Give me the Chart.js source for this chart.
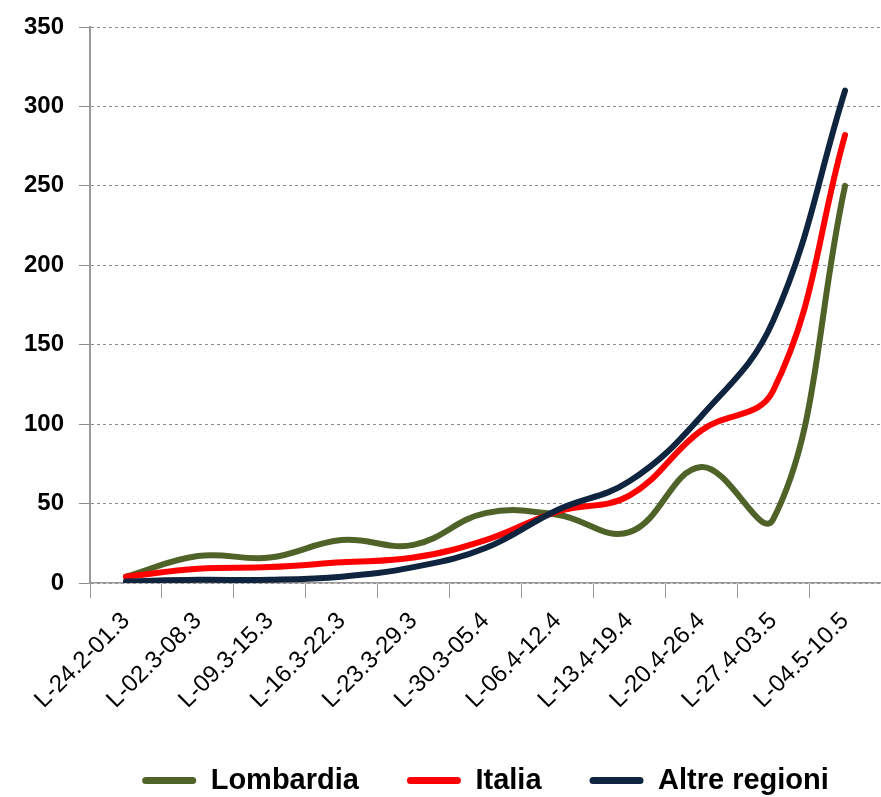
<!DOCTYPE html>
<html>
<head>
<meta charset="utf-8">
<script src="https://cdn.jsdelivr.net/npm/chart.js@4/dist/chart.umd.min.js"></script>
<style>
  html, body { margin: 0; padding: 0; background: #fff; overflow: hidden; }
  #wrap { width: 881px; height: 797px; }
</style>
</head>
<body>
<div id="wrap"><canvas id="grafico" width="881" height="797"></canvas></div>
<script>
// dati
const settimane = ['L-24.2-01.3', 'L-02.3-08.3', 'L-09.3-15.3', 'L-16.3-22.3', 'L-23.3-29.3', 'L-30.3-05.4',
    'L-06.4-12.4', 'L-13.4-19.4', 'L-20.4-26.4', 'L-27.4-03.5', 'L-04.5-10.5'];
const lombardia = [4, 17, 16, 27, 24, 44, 43, 32, 73, 40, 250];
const italia = [4, 9, 10, 13, 16, 27, 45, 55, 96, 121, 282];
const altreRegioni = [1, 2, 2, 4, 10, 22, 46, 64, 105, 165, 310];
const tickY = [0, 50, 100, 150, 200, 250, 300, 350];

const serie = (label, data, colore, ordine) => ({
    label, data, order: ordine,
    borderColor: colore, backgroundColor: colore,
    borderWidth: 6, pointRadius: 0, tension: 0.4, fill: false,
    borderCapStyle: 'round', borderJoinStyle: 'round'
});

new Chart(document.getElementById('grafico'), {
    type: 'line',
    data: {
        labels: settimane,
        datasets: [
            serie('Lombardia', lombardia, '#4F6228', 3),
            serie('Italia', italia, '#FF0000', 2),
            serie('Altre regioni', altreRegioni, '#0F243E', 1)
        ]
    },
    options: {
        responsive: false,
        animation: false,
        layout: { padding: { top: 0, right: 0, left: 0, bottom: -8 } },
        plugins: {
            tooltip: { enabled: false },
            legend: {
                position: 'bottom',
                fullSize: false,
                labels: {
                    boxWidth: 54, boxHeight: 7, padding: 48,
                    useBorderRadius: true, borderRadius: 3.5,
                    color: '#000',
                    font: { family: 'Liberation Sans', size: 29, weight: 'bold' },
                    sort: (a, b) => a.datasetIndex - b.datasetIndex,
                    generateLabels: chart => Chart.defaults.plugins.legend.labels.generateLabels(chart)
                        .map(it => Object.assign(it, { lineWidth: 0 }))
                }
            }
        },
        scales: {
            x: {
                offset: true,
                grid: { offset: true, drawOnChartArea: false, drawTicks: true, tickLength: 15, color: '#999' },
                border: { color: '#999', width: 1.5 },
                ticks: {
                    color: '#000', minRotation: 45, maxRotation: 45, autoSkip: false, padding: 9,
                    font: { family: 'Liberation Sans', size: 24 }
                },
                afterFit: s => { s.height = 135; }
            },
            y: {
                min: 0, max: 350,
                afterBuildTicks: s => { s.ticks = tickY.map(v => ({ value: v })); },
                grid: { color: '#8c8c8c', tickLength: 11, lineWidth: 1 },
                border: { color: '#999', width: 2, dash: [3, 3] },
                ticks: {
                    color: '#000', padding: 15,
                    font: { family: 'Liberation Sans', size: 24, weight: 'bold', lineHeight: 1 }
                },
                afterFit: s => { s.width = 90; }
            }
        }
    }
});
</script>
</body>
</html>
